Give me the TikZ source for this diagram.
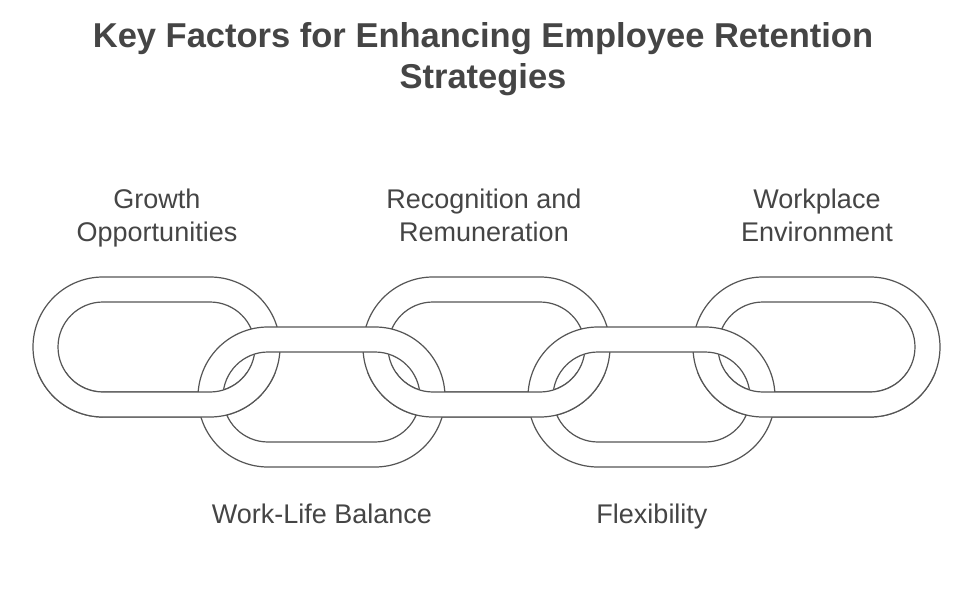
\documentclass[tikz,border=0pt]{standalone}
\usepackage{fontspec}
\setmainfont{Liberation Sans}
\definecolor{linecol}{HTML}{555555}
\definecolor{textcol}{HTML}{454545}
\newcommand\chainring[2]{%
 (#1-53.5,#2-70) -- (#1+53.5,#2-70) arc[start angle=-90,end angle=90,radius=70] -- (#1-53.5,#2+70) arc[start angle=90,end angle=270,radius=70] -- cycle
 (#1-53.5,#2-45) -- (#1+53.5,#2-45) arc[start angle=-90,end angle=90,radius=45] -- (#1-53.5,#2+45) arc[start angle=90,end angle=270,radius=45] -- cycle}
\begin{document}
\begin{tikzpicture}[x=1pt,y=-1pt,
  ring/.style={draw=linecol, line width=1.2pt, fill=white, even odd rule},
  title/.style={text=textcol, font=\fontsize{34.5}{40}\selectfont\bfseries, align=center, inner sep=0},
  lbl/.style={text=textcol, font=\fontsize{27}{33}\selectfont, align=center, inner sep=0}]
\path[use as bounding box, fill=white] (0,0) rectangle (975,596);
% top links
\path[ring] \chainring{156.5}{347};
\path[ring] \chainring{486.5}{347};
\path[ring] \chainring{816.5}{347};
% bottom links
\path[ring] \chainring{321.5}{397};
\path[ring] \chainring{651.5}{397};
% top links' lower bands over bottom links
\begin{scope}
\clip (0,372) rectangle (975,596);
\path[ring] \chainring{156.5}{347};
\path[ring] \chainring{486.5}{347};
\path[ring] \chainring{816.5}{347};
\end{scope}
% texts
\node[title, anchor=base] (t1) at (483,48) {Key Factors for Enhancing Employee Retention};
\node[title, anchor=base] (t2) at (483,89) {Strategies};
\node[lbl, anchor=base] (g1) at (157,209) {Growth};
\node[lbl, anchor=base] (g2) at (157,242) {Opportunities};
\node[lbl, anchor=base] (r1) at (484,209) {Recognition and};
\node[lbl, anchor=base] (r2) at (484,242) {Remuneration};
\node[lbl, anchor=base] (w1) at (817,209) {Workplace};
\node[lbl, anchor=base] (w2) at (817,242) {Environment};
\node[lbl, anchor=base] (wl) at (322,523) {Work-Life Balance};
\node[lbl, anchor=base] (fx) at (652,523) {Flexibility};
\end{tikzpicture}
\end{document}
